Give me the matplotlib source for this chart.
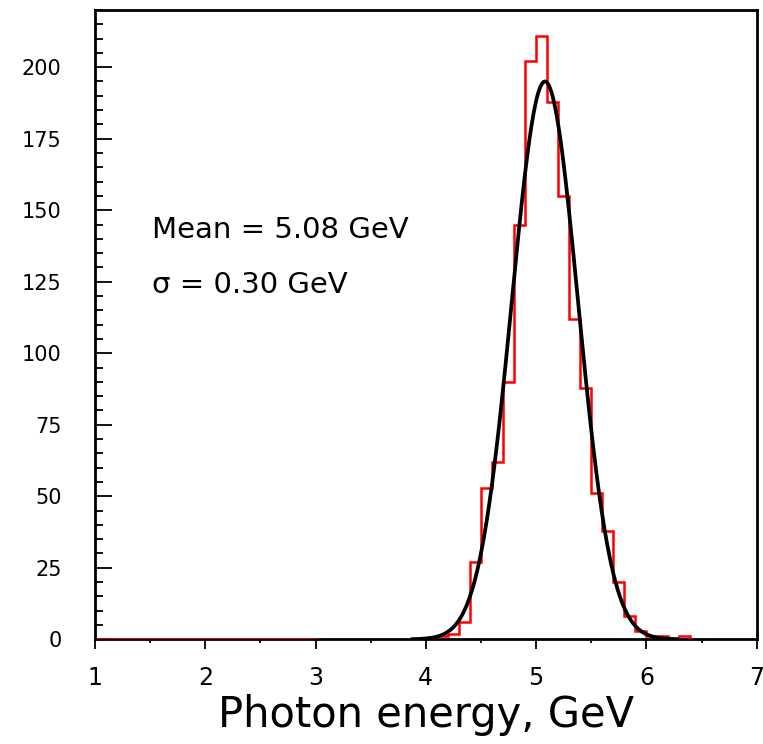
import numpy as np
import matplotlib
matplotlib.use("Agg")
import matplotlib.pyplot as plt
from matplotlib.ticker import MultipleLocator

# Histogram of photon energies (0.1 GeV bins)
bin_lo = 4.1
bin_width = 0.1
counts = [1, 2, 6, 27, 53, 62, 90, 145, 202, 211, 188, 155, 112,
          88, 51, 38, 20, 8, 3, 1, 1, 0, 1]
empty_range = [1.0, 3.0]  # red zero line at the start of the histogram

# Gaussian fit parameters
fit_mean = 5.08
fit_sigma = 0.30
fit_amp = 195.0

edges = bin_lo + bin_width * np.arange(len(counts) + 1)
xfit = np.linspace(fit_mean - 4 * fit_sigma, fit_mean + 4 * fit_sigma, 400)
yfit = fit_amp * np.exp(-0.5 * ((xfit - fit_mean) / fit_sigma) ** 2)

plt.rcParams["font.family"] = ["DejaVu Sans"]
fig = plt.figure(figsize=(7.63, 7.44), dpi=100)
ax = fig.add_axes([0.1245, 0.1407, 0.8672, 0.8459])

ax.plot(empty_range, [0, 0], color="red", lw=1.8, zorder=3)
ax.stairs(counts, edges, color="red", lw=1.8, zorder=3)
ax.plot(xfit, yfit, color="black", lw=2.7, zorder=4)

ax.set_xlim(1, 7)
ax.set_ylim(0, 220)
ax.xaxis.set_major_locator(MultipleLocator(1))
ax.xaxis.set_minor_locator(MultipleLocator(0.5))
ax.yaxis.set_major_locator(MultipleLocator(25))
ax.yaxis.set_minor_locator(MultipleLocator(5))

ax.tick_params(axis="x", which="major", direction="out", length=7, width=1.3,
               labelsize=17, pad=12)
ax.tick_params(axis="x", which="minor", direction="out", length=3, width=1.3)
ax.tick_params(axis="y", which="major", direction="in", length=12, width=1.3,
               labelsize=15, pad=24)
ax.tick_params(axis="y", which="minor", direction="in", length=6, width=1.3)
for s in ax.spines.values():
    s.set_linewidth(2)

ax.set_xlabel("Photon energy, GeV", fontsize=30, labelpad=3)

ax.text(1.52, 143, "Mean = 5.08 GeV", fontsize=21, va="center", ha="left")
ax.text(1.52, 124, "σ = 0.30 GeV", fontsize=21, va="center", ha="left")

fig.savefig("out.png", dpi=100)
